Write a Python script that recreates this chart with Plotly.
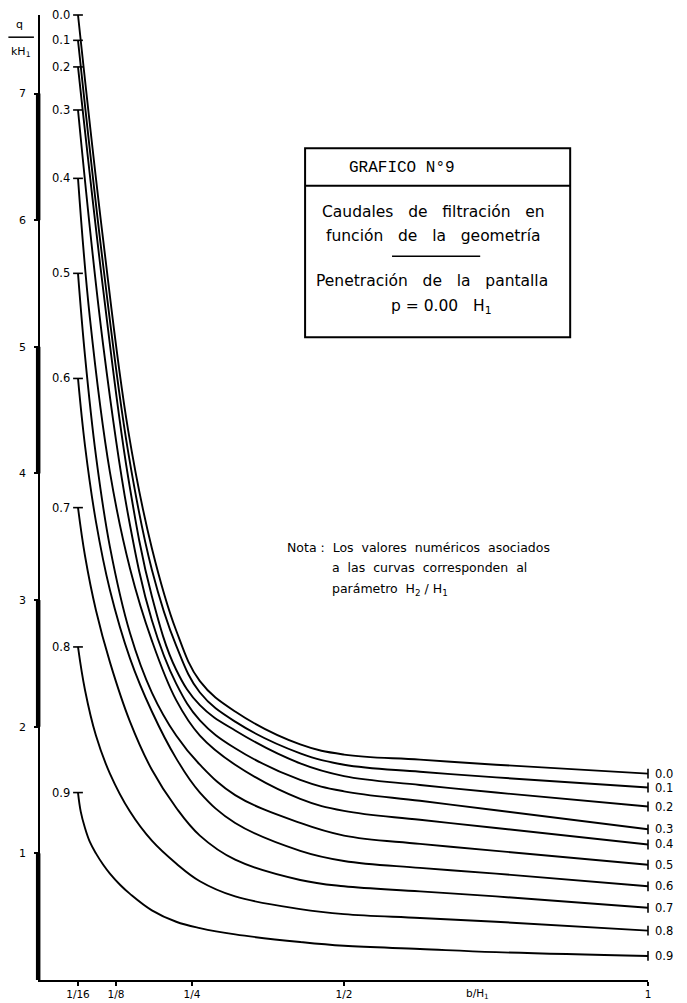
import plotly.graph_objects as go

# ---------------- data ----------------
curve_labels = ["0.0", "0.1", "0.2", "0.3", "0.4", "0.5", "0.6", "0.7", "0.8", "0.9"]

# b/H1 positions at which the upper curves (0.0 - 0.3) were read
x_upper = [0.0625, 0.104, 0.145, 0.184, 0.224, 0.263, 0.321, 0.428, 0.5, 0.625, 0.75, 1.0]
q_00 = [7.62, 5.84, 4.34, 3.41, 2.76, 2.36, 2.12, 1.86, 1.78, 1.74, 1.70, 1.63]
q_01 = [7.42, 5.64, 4.17, 3.24, 2.64, 2.27, 2.04, 1.79, 1.70, 1.645, 1.60, 1.52]
q_02 = [7.21, 5.45, 3.97, 3.03, 2.45, 2.17, 1.97, 1.71, 1.61, 1.54, 1.48, 1.37]
q_03 = [6.87, 5.01, 3.67, 2.84, 2.34, 2.05, 1.83, 1.58, 1.49, 1.415, 1.34, 1.19]

x_04 = [0.0625, 0.082, 0.115, 0.148, 0.184, 0.224, 0.263, 0.321, 0.428, 0.5, 0.625, 0.75, 1.0]
q_04 = [6.33, 5.23, 4.01, 3.25, 2.68, 2.21, 1.93, 1.70, 1.43, 1.335, 1.265, 1.20, 1.07]

# b/H1 positions at which the lower curves (0.5 - 0.8) were read
x_lower = [0.0625, 0.074, 0.092, 0.115, 0.148, 0.184, 0.224, 0.263, 0.321, 0.428, 0.5, 0.625, 0.75, 1.0]
q_05 = [5.58, 4.93, 4.14, 3.42, 2.74, 2.27, 1.93, 1.70, 1.46, 1.24, 1.14, 1.075, 1.02, 0.91]
q_06 = [4.75, 4.22, 3.62, 3.08, 2.54, 2.12, 1.75, 1.48, 1.24, 1.02, 0.94, 0.885, 0.84, 0.74]
q_07 = [3.73, 3.35, 2.92, 2.51, 2.04, 1.66, 1.36, 1.14, 0.95, 0.79, 0.74, 0.70, 0.66, 0.57]
q_08 = [2.63, 2.29, 1.93, 1.63, 1.33, 1.10, 0.92, 0.78, 0.66, 0.56, 0.52, 0.49, 0.46, 0.39]

x_09 = [0.0625, 0.067, 0.074, 0.082, 0.092, 0.104, 0.115, 0.132, 0.148, 0.184, 0.224,
        0.263, 0.321, 0.428, 0.5, 0.625, 0.75, 1.0]
q_09 = [1.48, 1.33, 1.20, 1.09, 1.00, 0.91, 0.84, 0.75, 0.68, 0.55, 0.46,
        0.41, 0.36, 0.30, 0.27, 0.245, 0.22, 0.19]

x_series = [x_upper, x_upper, x_upper, x_upper, x_04,
            x_lower, x_lower, x_lower, x_lower, x_09]
q_series = [q_00, q_01, q_02, q_03, q_04, q_05, q_06, q_07, q_08, q_09]

x_tickvals = [1 / 16, 1 / 8, 1 / 4, 1 / 2, 1]
x_ticktext = ["1/16", "1/8", "1/4", "1/2", "1"]
y_tickvals = [1, 2, 3, 4, 5, 6, 7]
thick_segments = [(0, 1), (2, 3), (4, 5), (6, 7)]

# ---------------- figure ----------------
FONT = "DejaVu Sans"
fig = go.Figure()

for xs, qs in zip(x_series, q_series):
    fig.add_trace(go.Scatter(
        x=xs, y=qs, mode="lines",
        line=dict(color="black", width=1.9, shape="spline", smoothing=1.1),
        showlegend=False, hoverinfo="skip", cliponaxis=False))

# end caps (start: small horizontal bar, end: small vertical bar)
fig.add_trace(go.Scatter(
    x=[xs[0] for xs in x_series], y=[qs[0] for qs in q_series], mode="markers",
    marker=dict(symbol="line-ew", size=7, line=dict(width=1.6, color="black")),
    showlegend=False, hoverinfo="skip", cliponaxis=False))
fig.add_trace(go.Scatter(
    x=[xs[-1] for xs in x_series], y=[qs[-1] for qs in q_series], mode="markers",
    marker=dict(symbol="line-ns", size=7, line=dict(width=1.6, color="black")),
    showlegend=False, hoverinfo="skip", cliponaxis=False))

annotations = []
for lab, xs, qs in zip(curve_labels, x_series, q_series):
    annotations.append(dict(x=xs[0], y=qs[0], xref="x", yref="y", text=lab,
                            showarrow=False, xanchor="right", yanchor="middle",
                            xshift=-6, font=dict(family=FONT, size=11.5, color="black")))
    annotations.append(dict(x=xs[-1], y=qs[-1], xref="x", yref="y", text=lab,
                            showarrow=False, xanchor="left", yanchor="middle",
                            xshift=5, font=dict(family=FONT, size=11.5, color="black")))

# x axis title
annotations.append(dict(x=0.72, y=0, xref="x", yref="y", text="b/H<sub>1</sub>",
                        showarrow=False, xanchor="center", yanchor="top", yshift=-5,
                        font=dict(family=FONT, size=10.5, color="black")))
# y axis title  q / kH1
annotations.append(dict(x=-0.034, y=0.990, xref="paper", yref="paper", text="q",
                        showarrow=False, xanchor="center", yanchor="middle",
                        font=dict(family=FONT, size=11, color="black")))
annotations.append(dict(x=-0.031, y=0.962, xref="paper", yref="paper", text="kH<sub>1</sub>",
                        showarrow=False, xanchor="center", yanchor="middle",
                        font=dict(family=FONT, size=11, color="black")))

# title box texts
sp = "\u00a0\u00a0 "
box_font = dict(family=FONT, size=15.5, color="black")
annotations += [
    dict(x=0.595, y=0.841, xref="paper", yref="paper", text="GRAFICO N°9",
         xanchor="center", yanchor="middle", showarrow=False,
         font=dict(family="Liberation Mono", size=16, color="black")),
    dict(x=0.647, y=0.796, xref="paper", yref="paper",
         text=f"Caudales{sp}de{sp}filtración{sp}en",
         xanchor="center", yanchor="middle", showarrow=False, font=box_font),
    dict(x=0.647, y=0.771, xref="paper", yref="paper",
         text=f"función{sp}de{sp}la{sp}geometría",
         xanchor="center", yanchor="middle", showarrow=False, font=box_font),
    dict(x=0.645, y=0.724, xref="paper", yref="paper",
         text=f"Penetración{sp}de{sp}la{sp}pantalla",
         xanchor="center", yanchor="middle", showarrow=False, font=box_font),
    dict(x=0.660, y=0.697, xref="paper", yref="paper",
         text=f"p = 0.00{sp}H<sub>1</sub>",
         xanchor="center", yanchor="middle", showarrow=False, font=box_font),
]

# note
nsp = "\u00a0 "
note_font = dict(family=FONT, size=12.5, color="black")
annotations += [
    dict(x=0.403, y=0.448, xref="paper", yref="paper", xanchor="left", yanchor="middle",
         text=f"Nota :{nsp}Los{nsp}valores{nsp}numéricos{nsp}asociados",
         showarrow=False, font=note_font),
    dict(x=0.477, y=0.427, xref="paper", yref="paper", xanchor="left", yanchor="middle",
         text=f"a{nsp}las{nsp}curvas{nsp}corresponden{nsp}al",
         showarrow=False, font=note_font),
    dict(x=0.477, y=0.405, xref="paper", yref="paper", xanchor="left", yanchor="middle",
         text=f"parámetro{nsp}H<sub>2</sub> / H<sub>1</sub>",
         showarrow=False, font=note_font),
]

shapes = []
# thick segments of the y axis
for a, b in thick_segments:
    shapes.append(dict(type="line", xref="paper", yref="y", x0=-0.003, x1=-0.003, y0=a, y1=b,
                       line=dict(color="black", width=4.5)))
# fraction bar of y title
shapes.append(dict(type="line", xref="paper", yref="paper", x0=-0.052, x1=-0.010,
                   y0=0.977, y1=0.977, line=dict(color="black", width=1.5)))
# title box
shapes += [
    dict(type="rect", xref="paper", yref="paper", x0=0.436, x1=0.872, y0=0.666, y1=0.862,
         line=dict(color="black", width=2)),
    dict(type="line", xref="paper", yref="paper", x0=0.436, x1=0.872, y0=0.823, y1=0.823,
         line=dict(color="black", width=2)),
    dict(type="line", xref="paper", yref="paper", x0=0.579, x1=0.724, y0=0.750, y1=0.750,
         line=dict(color="black", width=1.5)),
]

fig.update_layout(
    width=687, height=1003,
    margin=dict(l=40, r=39, t=15, b=23),
    paper_bgcolor="white", plot_bgcolor="white",
    showlegend=False,
    annotations=annotations, shapes=shapes,
    font=dict(family=FONT, color="black"),
    xaxis=dict(range=[0, 1], tickvals=x_tickvals, ticktext=x_ticktext, automargin=False,
               showgrid=False, zeroline=False, showline=True, linecolor="black", linewidth=1.5,
               ticks="outside", ticklen=4, tickwidth=1.5, tickcolor="black",
               tickfont=dict(family=FONT, size=10.5, color="black")),
    yaxis=dict(range=[0, 7.62], tickvals=y_tickvals, automargin=False,
               showgrid=False, zeroline=False, showline=True, linecolor="black", linewidth=1.5,
               ticks="outside", ticklen=4, tickwidth=1.5, tickcolor="black",
               ticklabelstandoff=6,
               tickfont=dict(family=FONT, size=11, color="black")),
)

fig.write_html("out.html")
